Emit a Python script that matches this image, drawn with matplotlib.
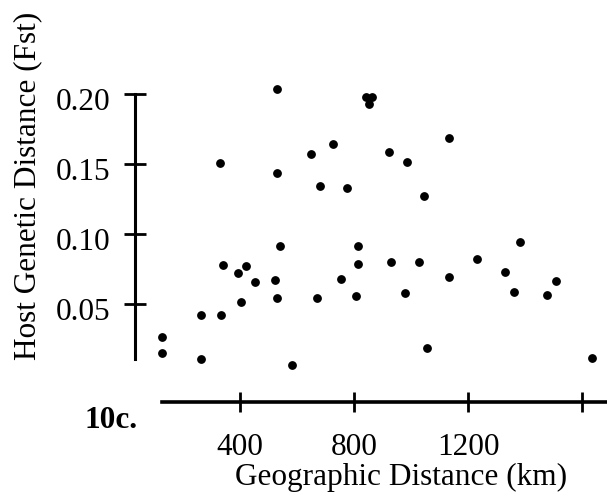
#!/usr/bin/env python3
"""
Scatter of host genetic distance (Fst) against geographic distance (km).
Panel 10c.
"""
import matplotlib
matplotlib.use('Agg')
import matplotlib.pyplot as plt
import matplotlib.transforms as mtransforms

# geographic distance (km)
GEO_KM = [529, 842, 863, 853, 725, 649, 331, 530, 679, 774,
          540, 815, 342, 421, 815, 1132, 921, 987, 1045, 1381,
          929, 1027, 1231, 393, 452, 523, 755, 405, 531, 669,
          806, 262, 332, 128, 128, 262, 581, 1329, 1508, 1132,
          977, 1360, 1477, 1055, 1634]

# host genetic distance (Fst)
FST = [0.2036, 0.1981, 0.1981, 0.1926, 0.1641, 0.1569, 0.1505, 0.1438,
       0.1345, 0.1329, 0.0912, 0.0916, 0.0779, 0.0769, 0.0788, 0.1684,
       0.1588, 0.1512, 0.1269, 0.0941, 0.0802, 0.0802, 0.0821, 0.0724,
       0.0655, 0.0669, 0.0676, 0.0516, 0.0543, 0.0543, 0.0559, 0.0421,
       0.0424, 0.0266, 0.0152, 0.0105, 0.0066, 0.0731, 0.0662, 0.0691,
       0.0579, 0.0584, 0.0566, 0.0184, 0.0116]

X_TICKS = [400, 800, 1200, 1600]
X_TICK_LABELS = ['400', '800', '1200', '']
Y_TICKS = [0.05, 0.10, 0.15, 0.20]
Y_TICK_LABELS = ['0.05', '0.10', '0.15', '0.20']

FONT = 'Liberation Serif'
FS = 22.5


def plot_fst(o_file):
    """Draw the scatter and save it to o_file."""
    plt.rcParams['font.family'] = FONT
    fig = plt.figure(figsize=(6.07, 5.02), dpi=100)
    ax = fig.add_axes([0.2224, 0.1978, 0.7776, 0.6329])

    ax.plot(GEO_KM, FST, linestyle='', marker='o', markersize=5.3,
            color='black', clip_on=False)

    ax.set_xlim(31.9, 1686.6)
    ax.set_ylim(-0.01979, 0.20714)

    for side in ['top', 'right']:
        ax.spines[side].set_visible(False)
    ax.spines['left'].set_bounds(0.0105, 0.20)
    ax.spines['left'].set_linewidth(2.2)
    ax.spines['bottom'].set_bounds(125.5, 1686.6)
    ax.spines['bottom'].set_linewidth(2.6)

    ax.set_xticks(X_TICKS)
    ax.set_xticklabels(X_TICK_LABELS)
    ax.set_yticks(Y_TICKS)
    ax.set_yticklabels(Y_TICK_LABELS)
    ax.tick_params(axis='y', direction='inout', length=15.8, width=2,
                   pad=10, labelsize=FS)
    ax.tick_params(axis='x', direction='inout', length=13.7, width=2,
                   pad=15, labelsize=FS)

    # labels in the scan sit a little below their ticks
    shift = mtransforms.ScaledTranslation(0, -0.04, fig.dpi_scale_trans)
    for lab in ax.get_yticklabels():
        lab.set_transform(lab.get_transform() + shift)

    fig.text(401 / 607, 1 - 477 / 502, 'Geographic Distance (km)',
             ha='center', va='center', fontsize=FS)
    fig.text(28 / 607, 1 - 185.5 / 502, 'Host Genetic Distance (Fst)',
             ha='center', va='center', rotation=90, fontsize=FS)
    fig.text(111 / 607, 1 - 421 / 502, '10c.', ha='center', va='center',
             fontsize=FS, fontweight='bold')

    fig.savefig(o_file, dpi=100)


if __name__ == '__main__':
    plot_fst('out.png')
